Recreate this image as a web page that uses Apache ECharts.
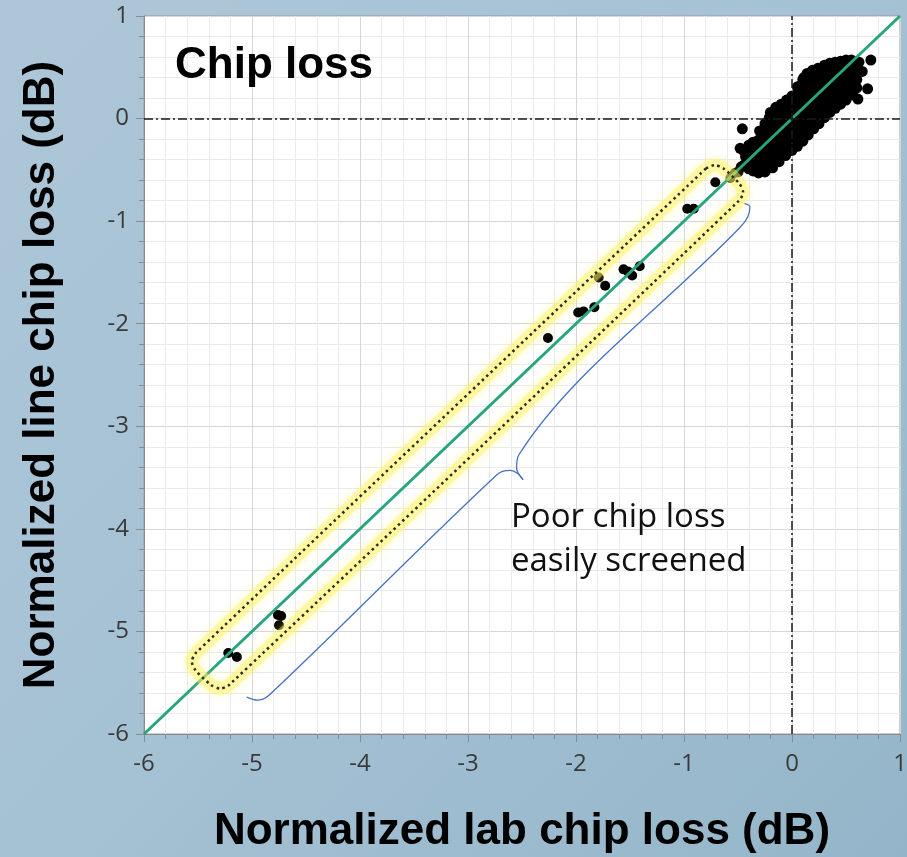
<!DOCTYPE html>
<html><head><meta charset="utf-8">
<script src="https://cdn.jsdelivr.net/npm/echarts@6/dist/echarts.min.js"></script>
<style>html,body{margin:0;padding:0;width:907px;height:857px;overflow:hidden;}#c{width:907px;height:857px;}</style>
</head><body><div id="c"></div>
<script>
// ---- data ----
const titleText = 'Chip loss';
const xName = 'Normalized lab chip loss (dB)';
const yName = 'Normalized line chip loss (dB)';
const noteLines = ['Poor chip loss', 'easily screened'];
const axisMin = -6, axisMax = 1, axisStep = 1;

// isolated poor-loss chips
const screenedPoints = [
  [-5.22,-5.21],[-5.14,-5.25],[-4.76,-4.84],[-4.73,-4.85],[-4.75,-4.94],
  [-2.26,-2.14],[-1.98,-1.89],[-1.93,-1.88],[-1.83,-1.84],
  [-1.79,-1.55],[-1.73,-1.63],[-1.56,-1.47],[-1.52,-1.49],[-1.48,-1.53],[-1.41,-1.44],
  [-0.97,-0.88],[-0.91,-0.88],[-0.71,-0.62],[-0.57,-0.58],[-0.53,-0.53]
];
// main population near zero
const clusterPoints = [
  [-0.46,-0.10],[-0.50,-0.52],[-0.47,-0.47],[-0.48,-0.29],
  [-0.44,-0.45],[-0.43,-0.37],[-0.45,-0.31],
  [-0.40,-0.49],[-0.41,-0.41],[-0.39,-0.33],[-0.40,-0.26],
  [-0.36,-0.51],[-0.35,-0.44],[-0.37,-0.37],[-0.35,-0.30],[-0.36,-0.23],
  [-0.31,-0.53],[-0.32,-0.44],[-0.30,-0.36],[-0.33,-0.29],[-0.31,-0.21],
  [-0.28,-0.49],[-0.27,-0.41],[-0.29,-0.33],[-0.27,-0.26],[-0.28,-0.19],[-0.26,-0.13],
  [-0.24,-0.46],[-0.23,-0.38],[-0.25,-0.31],[-0.23,-0.24],[-0.24,-0.16],[-0.22,-0.09],
  [-0.20,-0.43],[-0.19,-0.35],[-0.21,-0.28],[-0.19,-0.21],[-0.20,-0.13],[-0.18,-0.06],[-0.21,0.01],
  [-0.16,-0.40],[-0.15,-0.32],[-0.17,-0.25],[-0.15,-0.18],[-0.16,-0.10],[-0.14,-0.03],[-0.16,0.05],
  [-0.12,-0.35],[-0.11,-0.27],[-0.13,-0.20],[-0.11,-0.13],[-0.12,-0.05],[-0.10,0.02],[-0.12,0.08],
  [-0.08,-0.31],[-0.07,-0.23],[-0.09,-0.16],[-0.07,-0.09],[-0.08,-0.01],[-0.06,0.05],[-0.08,0.11],
  [-0.04,-0.28],[-0.03,-0.20],[-0.05,-0.13],[-0.03,-0.06],[-0.04,0.02],[-0.02,0.08],[-0.04,0.14],
  [0.00,-0.25],[0.01,-0.17],[-0.01,-0.10],[0.01,-0.03],[0.00,0.05],[0.02,0.11],[0.00,0.17],
  [0.04,-0.21],[0.05,-0.14],[0.03,-0.07],[0.05,0.01],[0.04,0.08],[0.06,0.14],[0.04,0.21],[0.06,0.27],
  [0.08,-0.17],[0.09,-0.10],[0.07,-0.03],[0.09,0.04],[0.08,0.12],[0.10,0.18],[0.08,0.25],[0.09,0.33],
  [0.12,-0.13],[0.13,-0.06],[0.11,0.01],[0.13,0.08],[0.12,0.15],[0.14,0.22],[0.12,0.29],[0.13,0.36],[0.11,0.40],
  [0.16,-0.09],[0.17,-0.02],[0.15,0.05],[0.17,0.12],[0.16,0.19],[0.18,0.26],[0.16,0.33],[0.17,0.40],
  [0.20,-0.04],[0.21,0.03],[0.19,0.10],[0.21,0.17],[0.20,0.24],[0.22,0.31],[0.20,0.38],[0.21,0.43],
  [0.24,0.01],[0.25,0.08],[0.23,0.15],[0.25,0.22],[0.24,0.29],[0.26,0.36],[0.24,0.43],
  [0.28,0.05],[0.29,0.12],[0.27,0.19],[0.29,0.26],[0.28,0.33],[0.30,0.40],[0.28,0.46],
  [0.32,0.09],[0.33,0.16],[0.31,0.23],[0.33,0.30],[0.32,0.37],[0.34,0.44],[0.32,0.48],
  [0.36,0.13],[0.37,0.20],[0.35,0.27],[0.37,0.34],[0.36,0.41],[0.38,0.48],
  [0.40,0.16],[0.41,0.23],[0.39,0.30],[0.41,0.37],[0.40,0.44],[0.42,0.51],
  [0.44,0.20],[0.45,0.27],[0.43,0.34],[0.45,0.41],[0.44,0.48],[0.46,0.52],
  [0.48,0.23],[0.49,0.30],[0.47,0.37],[0.49,0.44],[0.48,0.51],
  [0.52,0.27],[0.53,0.34],[0.51,0.41],[0.53,0.48],[0.52,0.53],
  [0.56,0.33],[0.57,0.40],[0.55,0.47],[0.57,0.53],
  [0.60,0.38],[0.61,0.46],[0.59,0.52],
  // upper fringe
  [-0.30,-0.12],[-0.25,-0.05],[-0.20,0.06],[-0.15,0.11],[-0.10,0.14],[-0.05,0.18],[0.00,0.22],
  [0.05,0.31],[0.10,0.38],[0.14,0.44],[0.19,0.47],[0.24,0.49],[0.30,0.52],[0.35,0.54],
  [0.40,0.55],[0.45,0.56],[0.50,0.57],[0.55,0.57],[0.62,0.55],
  // lower fringe
  [-0.25,-0.52],[-0.18,-0.48],[-0.12,-0.42],[-0.06,-0.36],[0.00,-0.31],[0.05,-0.27],[0.10,-0.22],
  [0.15,-0.16],[0.20,-0.10],[0.25,-0.05],[0.30,0.01],[0.35,0.06],[0.40,0.10],[0.45,0.14],
  [0.50,0.18],[0.56,0.24],[0.60,0.30],
  // stragglers
  [0.73,0.57],[0.65,0.46],[0.70,0.29],[0.61,0.19],[0.55,0.23]
];
// y = x reference line
const fitLine = [[-6,-6],[1,1]];
// highlighted region outline (data coordinates)
const boxOutline = [
  [-0.796,-0.486],[-0.715,-0.453],[-0.634,-0.487],[-0.487,-0.634],[-0.453,-0.715],[-0.486,-0.796],
  [-5.214,-5.524],[-5.295,-5.557],[-5.377,-5.524],[-5.524,-5.377],[-5.557,-5.295],[-5.524,-5.214],
  [-0.796,-0.486]
];
// curly brace (data coordinates)
const braceLower = [[-5.05,-5.64],[-4.95,-5.67],[-4.84,-5.62],[-2.73,-3.47],[-2.61,-3.43],[-2.54,-3.46],[-2.49,-3.52]];
const braceUpper = [[-2.49,-3.52],[-2.55,-3.41],[-2.53,-3.28],[-0.48,-1.06],[-0.41,-0.96],[-0.39,-0.86],[-0.44,-0.83]];

// ---- chart ----
const chart = echarts.init(document.getElementById('c'), null, {renderer:'canvas'});
const tickFont = 'Open Sans, Noto Sans, sans-serif';
const boldFont = 'Liberation Sans, Arial, sans-serif';
function axis(name, gap, rotate, margin) {
  return {
    type:'value', min:axisMin, max:axisMax, interval:axisStep,
    name:name, nameLocation:'middle', nameGap:gap, nameRotate:rotate,
    nameTextStyle:{fontFamily:boldFont, fontWeight:'bold', fontSize:44, color:'#000'},
    axisLine:{show:true, onZero:false, lineStyle:{color:'#8a8a8a', width:1}},
    axisTick:{show:true, length:8, lineStyle:{color:'#8a8a8a'}},
    minorTick:{show:true, splitNumber:5, length:5, lineStyle:{color:'#8a8a8a'}},
    splitLine:{show:true, lineStyle:{color:'#d6d6d6', width:1}},
    minorSplitLine:{show:true, lineStyle:{color:'#ebebeb', width:1}},
    axisLabel:{fontFamily:tickFont, fontSize:24, color:'#3a3a3a', margin:margin}
  };
}
const option = {
  animation:false,
  backgroundColor:{type:'linear', x:0, y:0, x2:1, y2:1, colorStops:[
    {offset:0, color:'#adc7d8'},{offset:0.5, color:'#a5c1d4'},{offset:1, color:'#94b5c9'}]},
  grid:{left:144, right:7, top:16, bottom:123, outerBoundsMode:'none', containLabel:false,
    show:true, backgroundColor:'#ffffff', borderColor:'#9a9a9a', borderWidth:1},
  xAxis: axis(xName, 76, 0, 18),
  yAxis: axis(yName, 80, 90, 15),
  graphic:[
    {type:'text', left:175, top:44, z:100, style:{text:titleText, fontFamily:boldFont, fontWeight:'bold', fontSize:44, fill:'#000'}},
    {type:'text', left:511, top:501, z:100, style:{text:noteLines[0], fontFamily:tickFont, fontSize:33, fill:'#111'}},
    {type:'text', left:511, top:545, z:100, style:{text:noteLines[1], fontFamily:tickFont, fontSize:33, fill:'#111'}}
  ],
  series:[
    {type:'line', data:[], z:1, silent:true,
      markLine:{symbol:'none', silent:true, label:{show:false},
        lineStyle:{color:'#1a1a1a', width:1.5, type:[9,3,2,3]},
        data:[{xAxis:0},{yAxis:0}]}},
    {type:'scatter', data:clusterPoints, symbolSize:11, z:3, itemStyle:{color:'#000', opacity:1}},
    {type:'scatter', data:screenedPoints, symbolSize:10, z:3, itemStyle:{color:'#000', opacity:1}},
    {type:'line', data:fitLine, showSymbol:false, symbol:'none', z:4, lineStyle:{color:'#27a67b', width:3}},
    {type:'line', data:boxOutline, showSymbol:false, symbol:'none', smooth:0.25, z:5,
      lineStyle:{color:'rgba(255,245,100,0.45)', width:13, shadowBlur:10, shadowColor:'rgba(255,240,80,0.75)'}},
    {type:'line', data:boxOutline, showSymbol:false, symbol:'none', smooth:0.25, z:6,
      lineStyle:{color:'#2a2a2a', width:2.5, type:[2.5,3.5], cap:'butt'}},
    {type:'line', data:braceLower, showSymbol:false, symbol:'none', smooth:0.35, z:6,
      lineStyle:{color:'#4472c4', width:1.3}},
    {type:'line', data:braceUpper, showSymbol:false, symbol:'none', smooth:0.35, z:6,
      lineStyle:{color:'#4472c4', width:1.3}}
  ]
};
chart.setOption(option);
</script></body></html>
